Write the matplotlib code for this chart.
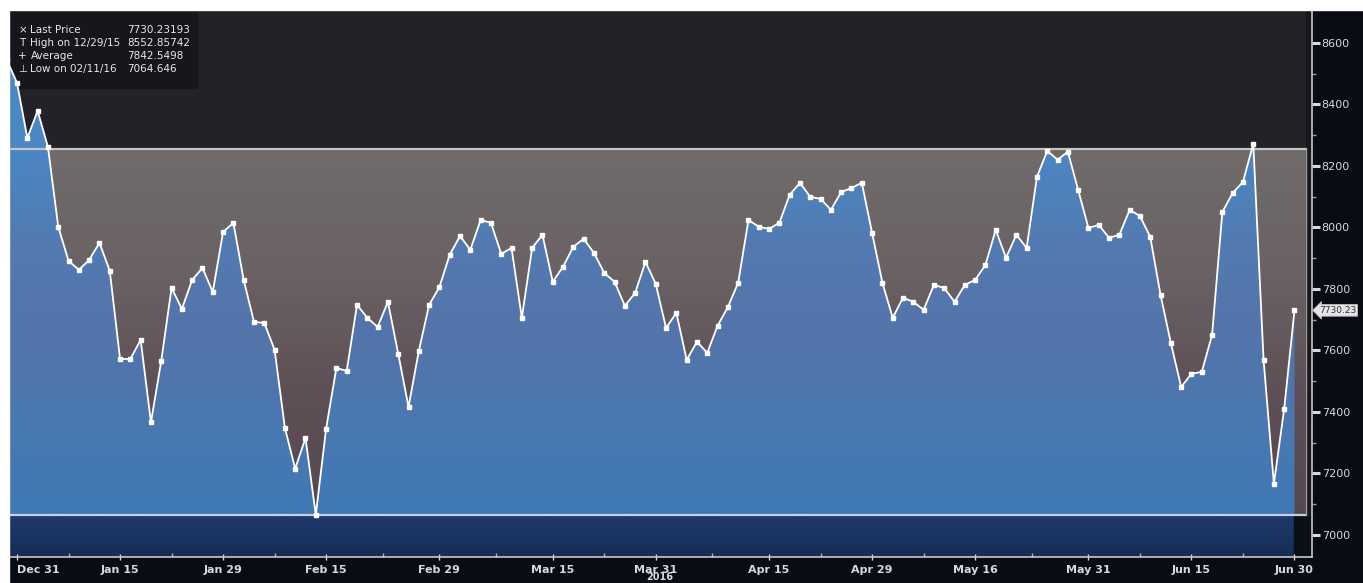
import matplotlib.pyplot as plt
import numpy as np
from matplotlib.colors import LinearSegmentedColormap
from matplotlib.patches import Rectangle

plt.rcParams['font.family'] = ['Liberation Sans Narrow', 'DejaVu Sans']

# one close per trading day, Dec 29 2015 .. Jun 30 2016
prices = [8552.86, 8545,
          8470, 8291, 8379, 8262, 8002, 7891, 7862, 7894, 7950, 7859, 7572, 7572, 7634,
          7366, 7566, 7803, 7735, 7829, 7868, 7790, 7985, 8015, 7829, 7693, 7689,
          7602, 7348, 7215, 7315, 7064.65, 7345, 7543, 7533, 7748, 7706, 7676, 7758, 7589,
          7416, 7598, 7748, 7806, 7911, 7972, 7927, 8024, 8015, 7914, 7933, 7706,
          7933, 7976, 7823, 7872, 7937, 7963, 7917, 7852, 7823, 7745, 7787, 7888, 7816,
          7673, 7722, 7569, 7628, 7592, 7680, 7741, 7820, 8024, 8002, 7995, 8015, 8106,
          8145, 8099, 8093, 8057, 8115, 8128, 8145, 7982, 7820, 7706, 7771, 7758, 7732,
          7813, 7803, 7758, 7813, 7829, 7878, 7992, 7901, 7976, 7933, 8164, 8249,
          8220, 8246, 8122, 7998, 8008, 7966, 7976, 8057, 8037, 7969, 7780, 7624, 7481,
          7524, 7530, 7650, 8050, 8112, 8148, 8272, 7569, 7166, 7410, 7730.23]

band_high = 8255
band_low = 7064.646
last_price = 7730.23193

tick_idx = [2, 12, 22, 32, 43, 54, 64, 75, 85, 95, 106, 116, 126]
tick_labels = ['Dec 31', 'Jan 15', 'Jan 29', 'Feb 15', 'Feb 29', 'Mar 15', 'Mar 31',
               'Apr 15', 'Apr 29', 'May 16', 'May 31', 'Jun 15', 'Jun 30']
minor_idx = [7, 17, 27, 37.5, 48.5, 59, 69.5, 80, 90, 100.5, 111, 121]

legend_rows = [('\u00d7', 'Last Price', '7730.23193'),
               ('T', 'High on 12/29/15', '8552.85742'),
               ('+', 'Average', '7842.5498'),
               ('\u22a5', 'Low on 02/11/16', '7064.646')]

x = np.arange(len(prices))
xmin, xmax = 1.22, 127.7
ymin, ymax = 6928, 8707
band_right = 127.1

fig = plt.figure(figsize=(13.63, 5.83), dpi=100, facecolor='white')
fig.patches.append(Rectangle((9 / 1363, 0), 1, 573 / 583, transform=fig.transFigure,
                             color='#080c14', zorder=-5))
ax = fig.add_axes([9 / 1363, 26 / 583, 1303 / 1363, 547 / 583])
ax.set_facecolor('#222228')

# legend box sits behind the data
ax.add_patch(Rectangle((0, 0.857), 0.144, 0.143, transform=ax.transAxes,
                       color='#16161c', zorder=0.5))


def gradient(colors, extent, z, clip=None):
    cmap = LinearSegmentedColormap.from_list('g', colors)
    im = ax.imshow(np.linspace(0, 1, 256).reshape(-1, 1), cmap=cmap, aspect='auto',
                   extent=extent, origin='lower', zorder=z, interpolation='bilinear')
    if clip is not None:
        im.set_clip_path(clip, transform=ax.transData)
    return im


# gray band between low and high
gradient(['#574850', '#5e5056', '#6a6264', '#716b6b'],
         [xmin, band_right, band_low, band_high], 1)
# navy strip below the low
gradient(['#172c55', '#1e3a6d'], [xmin, x[-1], ymin, band_low], 1)
ax.add_patch(Rectangle((x[-1], ymin), xmax - x[-1], band_low - ymin,
                       color='#0a0e16', zorder=1.1))
ax.add_patch(Rectangle((band_right, band_low), xmax - band_right, ymax - band_low,
                       color='#17181d', zorder=1.1))

# blue area under the price line
poly = ax.fill_between(x, prices, band_low, color='none', lw=0)
gradient(['#3e78b6', '#4a78b0', '#5474aa', '#527bb2', '#4a87c4', '#4a8ac8'],
         [xmin, xmax, band_low, 8560], 2, clip=poly.get_paths()[0])

ax.plot([xmin, band_right], [band_high, band_high], color='#c4c4c4', lw=1.6, zorder=3)
ax.plot([xmin, band_right], [band_low, band_low], color='#c6d0e0', lw=1.6, zorder=3)
ax.plot([band_right, band_right], [band_low, band_high], color='#9a9a9a', lw=1, zorder=3)

ax.plot(x, prices, color='white', lw=1.3, marker='s', ms=2.6, mec='white', zorder=4)

ax.set_xlim(xmin, xmax)
ax.set_ylim(ymin, ymax)

ax.yaxis.tick_right()
ax.set_yticks(np.arange(7000, 8601, 200))
ax.set_yticks(np.arange(7100, 8601, 200), minor=True)
ax.tick_params(axis='y', which='major', direction='out', length=6, width=2.2,
               colors='#d8d8d8', labelsize=8, pad=1)
ax.tick_params(axis='y', which='minor', direction='out', length=3, width=1,
               colors='#9a9a9a')
ax.set_xticks(tick_idx)
ax.set_xticklabels(tick_labels, fontweight='bold')
ax.get_xticklabels()[0].set_horizontalalignment('left')
ax.set_xticks(minor_idx, minor=True)
ax.tick_params(axis='x', which='major', direction='inout', length=5, width=1,
               colors='#d8d8d8', labelsize=8, pad=3)
ax.tick_params(axis='x', which='minor', direction='in', length=3, width=1,
               colors='#b0b0b0')

for side in ['top', 'left']:
    ax.spines[side].set_visible(False)
for side in ['right', 'bottom']:
    ax.spines[side].set_color('#c8c8c8')
    ax.spines[side].set_linewidth(1.2)

# last-price tag on the right axis
ax.annotate('7730.23', xy=(1.0, last_price), xycoords=('axes fraction', 'data'),
            xytext=(5, 0), textcoords='offset points', va='center', ha='left',
            fontsize=6.5, color='#333333', annotation_clip=False,
            bbox=dict(boxstyle='larrow,pad=0.15', fc='#e4e4e4', ec='#bbbbbb', lw=0.6))

rows_y = [0.963, 0.939, 0.916, 0.892]
for (sym, name, val), yy in zip(legend_rows, rows_y):
    ax.text(0.0105, yy, sym, transform=ax.transAxes, color='#e8e8e8', fontsize=7.5,
            va='center', ha='center', zorder=6)
    ax.text(0.0165, yy, name, transform=ax.transAxes, color='#e8e8e8', fontsize=7.5,
            va='center', zorder=6)
    ax.text(0.0905, yy, val, transform=ax.transAxes, color='#e8e8e8', fontsize=7.5,
            va='center', zorder=6)

fig.text(660 / 1363, 6 / 583, '2016', color='#d8d8d8', fontsize=7, ha='center',
         va='center', fontweight='bold')

# white margins round the dark panel, as in the screenshot
fig.patches.append(Rectangle((0, 0), 9 / 1363, 1, transform=fig.transFigure,
                             color='white', zorder=10))
fig.patches.append(Rectangle((0, 573 / 583), 1, 10 / 583, transform=fig.transFigure,
                             color='white', zorder=10))

fig.savefig('out.png', dpi=100, facecolor='white')
